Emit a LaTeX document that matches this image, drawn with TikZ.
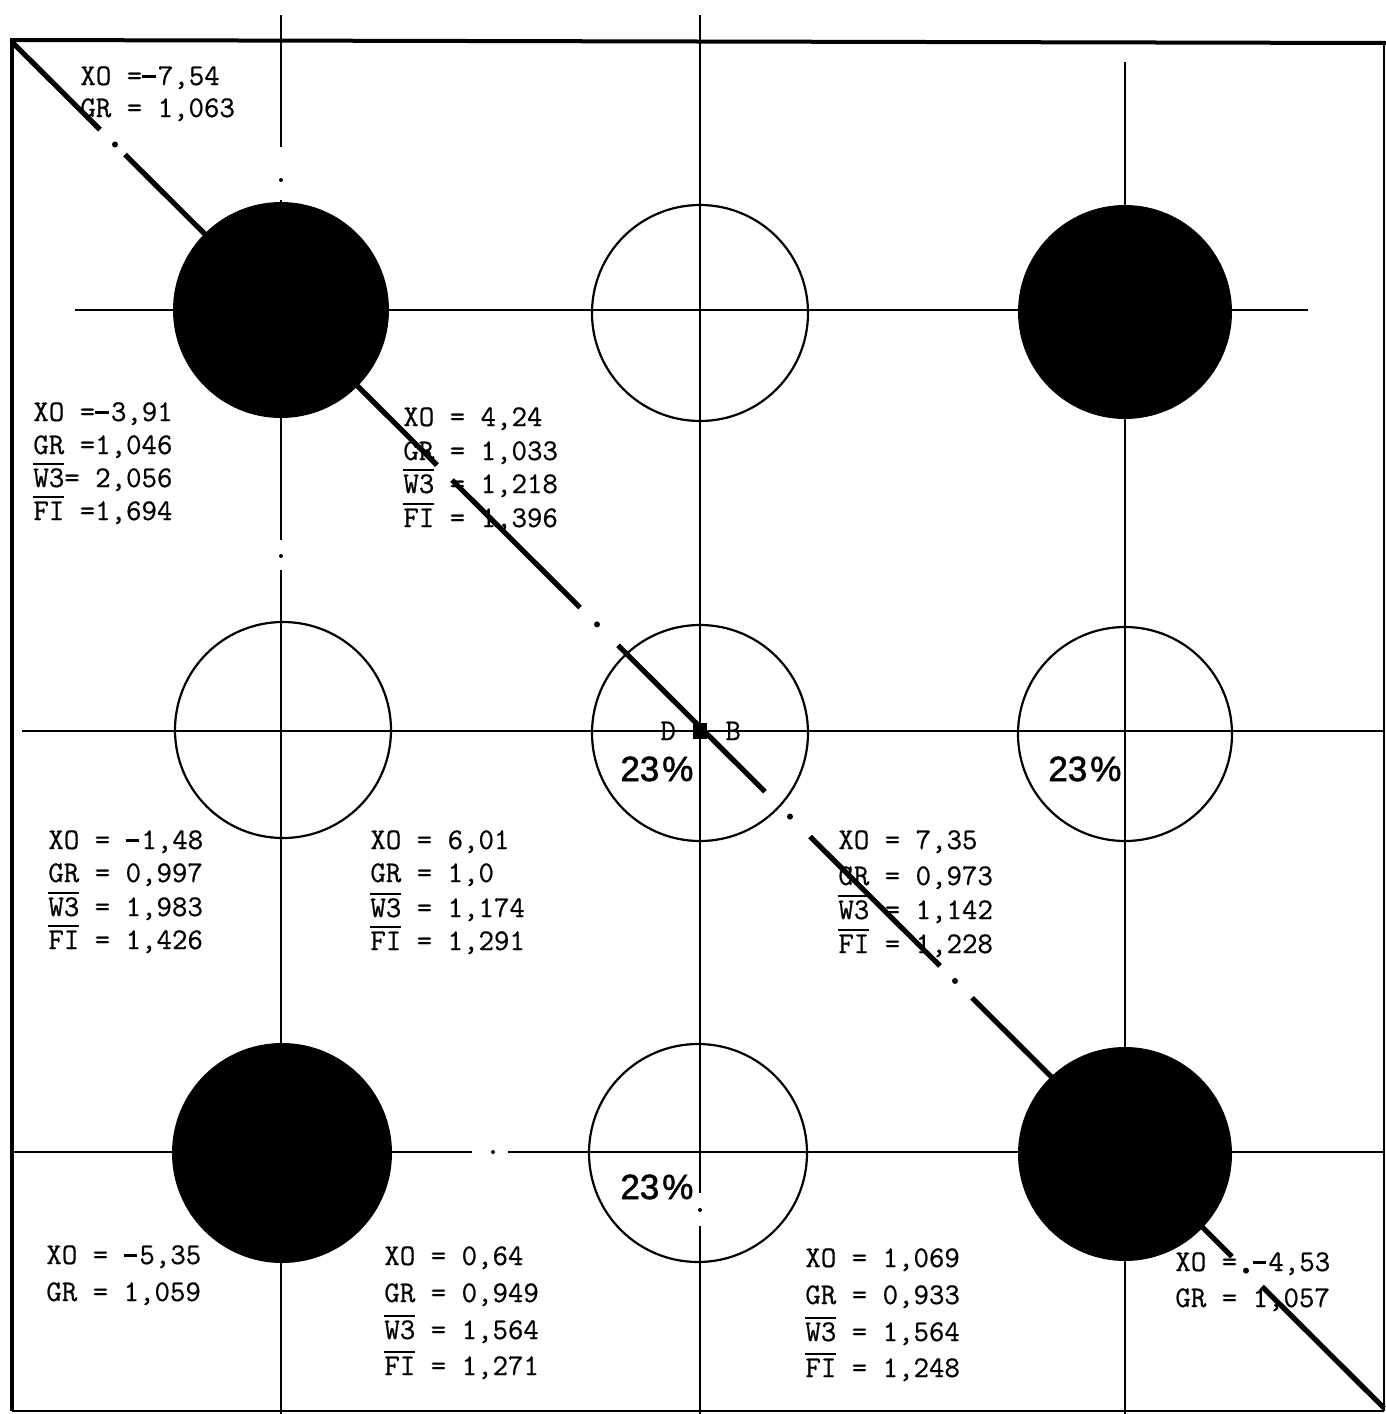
\documentclass[tikz,border=0pt]{standalone}
\usepackage{fontspec}
\newfontfamily\pctfont{Liberation Sans}[FakeBold=1.5]
\newfontfamily\twfont{Latin Modern Mono}[FakeBold=0.6]
\newsavebox\obarbox
\newcommand\obar[1]{\sbox\obarbox{#1}\rlap{\rule[\dimexpr\ht\obarbox+1.6pt\relax]{\wd\obarbox}{1.1pt}}\usebox\obarbox}
\newcommand\mdash{\rule[0.23em]{0.45em}{0.09em}\kern0.075em}
\begin{document}
\begin{tikzpicture}[x=0.5pt,y=-0.5pt,
  gridline/.style={line width=0.8pt},
  ring/.style={line width=1.1pt},
  disk/.style={fill=black},
  diag/.style={line width=2.6pt},
  frameline/.style={line width=2pt},
  lab/.style={font=\twfont\fontsize{15}{18}\selectfont, anchor=base west, inner sep=0pt},
  pct/.style={font=\pctfont\fontsize{17.5}{20}\selectfont, anchor=base west, inner sep=0pt}]
\useasboundingbox (0,0) rectangle (1386,1414);
\fill[white] (0,0) rectangle (1386,1414);

% frame
\draw[frameline] (10,40) -- (1386,43);
\draw[frameline] (12,40) -- (12,1411);
\draw[line width=1.2pt] (12,1411) -- (1384,1411);
\draw[line width=0.8pt] (1384,43) -- (1384,1411);

% grid lines
\draw[gridline] (281,15) -- (281,147);
\fill (281,180) circle (2);
\draw[gridline] (281,200) -- (281,540);
\fill (281,556) circle (2);
\draw[gridline] (281,570) -- (281,1414);
\draw[gridline] (700,15) -- (700,1193);
\fill (700,1210) circle (2);
\draw[gridline] (700,1226) -- (700,1414);
\draw[gridline] (1125,62) -- (1125,1414);
\draw[gridline] (75,310) -- (1308,310);
\draw[gridline] (22,731) -- (1384,731);
\draw[gridline] (12,1152) -- (472,1152);
\fill (493,1152) circle (2);
\draw[gridline] (508,1152) -- (1384,1152);

% circles
\fill[disk] (281,310) circle (108);
\draw[ring] (700,313) circle (108);
\fill[disk] (1125,312) circle (107);
\draw[ring] (283,730) circle (108);
\draw[ring] (700,733) circle (108);
\draw[ring] (1125,734) circle (107);
\fill[disk] (282,1153) circle (110);
\draw[ring] (698,1153) circle (109);
\fill[disk] (1125,1154) circle (107);

% labels
\node[lab] (a1) at (80,85) {XO =\mdash 7,54};
\node[lab] (a2) at (80,117) {GR = 1,063};

\node[lab] (b1) at (33,421) {XO =\mdash 3,91};
\node[lab] (b2) at (33,454) {GR =1,046};
\node[lab] (b3) at (33,487) {\obar{W3}= 2,056};
\node[lab] (b4) at (33,520) {\obar{FI} =1,694};

\node[lab] (c1) at (403,426) {XO = 4,24};
\node[lab] (c2) at (403,460) {GR = 1,033};
\node[lab] (c3) at (403,493) {\obar{W3} = 1,218};
\node[lab] (c4) at (403,527) {\obar{FI} = 1,396};

\node[lab] (d1) at (48,849) {XO = \mdash 1,48};
\node[lab] (d2) at (48,882) {GR = 0,997};
\node[lab] (d3) at (48,916) {\obar{W3} = 1,983};
\node[lab] (d4) at (48,949) {\obar{FI} = 1,426};

\node[lab] (e1) at (370,849) {XO = 6,01};
\node[lab] (e2) at (370,882) {GR = 1,0};
\node[lab] (e3) at (370,917) {\obar{W3} = 1,174};
\node[lab] (e4) at (370,950) {\obar{FI} = 1,291};

\node[lab] (f1) at (838,849) {XO = 7,35};
\node[lab] (f2) at (838,885) {GR = 0,973};
\node[lab] (f3) at (838,919) {\obar{W3} = 1,142};
\node[lab] (f4) at (838,953) {\obar{FI} = 1,228};

\node[lab] (g1) at (46,1264) {XO = \mdash 5,35};
\node[lab] (g2) at (46,1301) {GR = 1,059};

\node[lab] (h1) at (384,1265) {XO = 0,64};
\node[lab] (h2) at (384,1302) {GR = 0,949};
\node[lab] (h3) at (384,1339) {\obar{W3} = 1,564};
\node[lab] (h4) at (384,1375) {\obar{FI} = 1,271};

\node[lab] (i1) at (805,1267) {XO = 1,069};
\node[lab] (i2) at (805,1304) {GR = 0,933};
\node[lab] (i3) at (805,1341) {\obar{W3} = 1,564};
\node[lab] (i4) at (805,1377) {\obar{FI} = 1,248};

\node[lab] (j1) at (1175,1271) {XO = \mdash 4,53};
\node[lab] (j2) at (1175,1307) {GR = 1,057};

% centre marks
\node[lab] (dd) at (660,740) {D};
\node[lab] (bb) at (725,740) {B};
\fill (693,723) rectangle (707,739);

\node[pct] (p1) at (620,781) {23\kern1.5pt\%};
\node[pct] (p2) at (1048,781) {23\kern1.5pt\%};
\node[pct] (p3) at (620,1199) {23\kern1.5pt\%};

% diagonal dash-dot line
\draw[diag] (12,42) -- (100,129.6);
\fill (115,144.5) circle (3);
\draw[diag] (125,154.5) -- (437,465.1);
\draw[diag] (452,480) -- (580,607.5);
\fill (597,624.4) circle (3);
\draw[diag] (618,645.3) -- (765,791.7);
\fill (790,816.6) circle (3);
\draw[diag] (810,836.5) -- (940,965.9);
\fill (955,980.9) circle (3);
\draw[diag] (972,997.8) -- (1232,1256.7);
\fill (1246,1270.6) circle (3);
\draw[diag] (1262,1286.5) -- (1384,1408);
\end{tikzpicture}
\end{document}
